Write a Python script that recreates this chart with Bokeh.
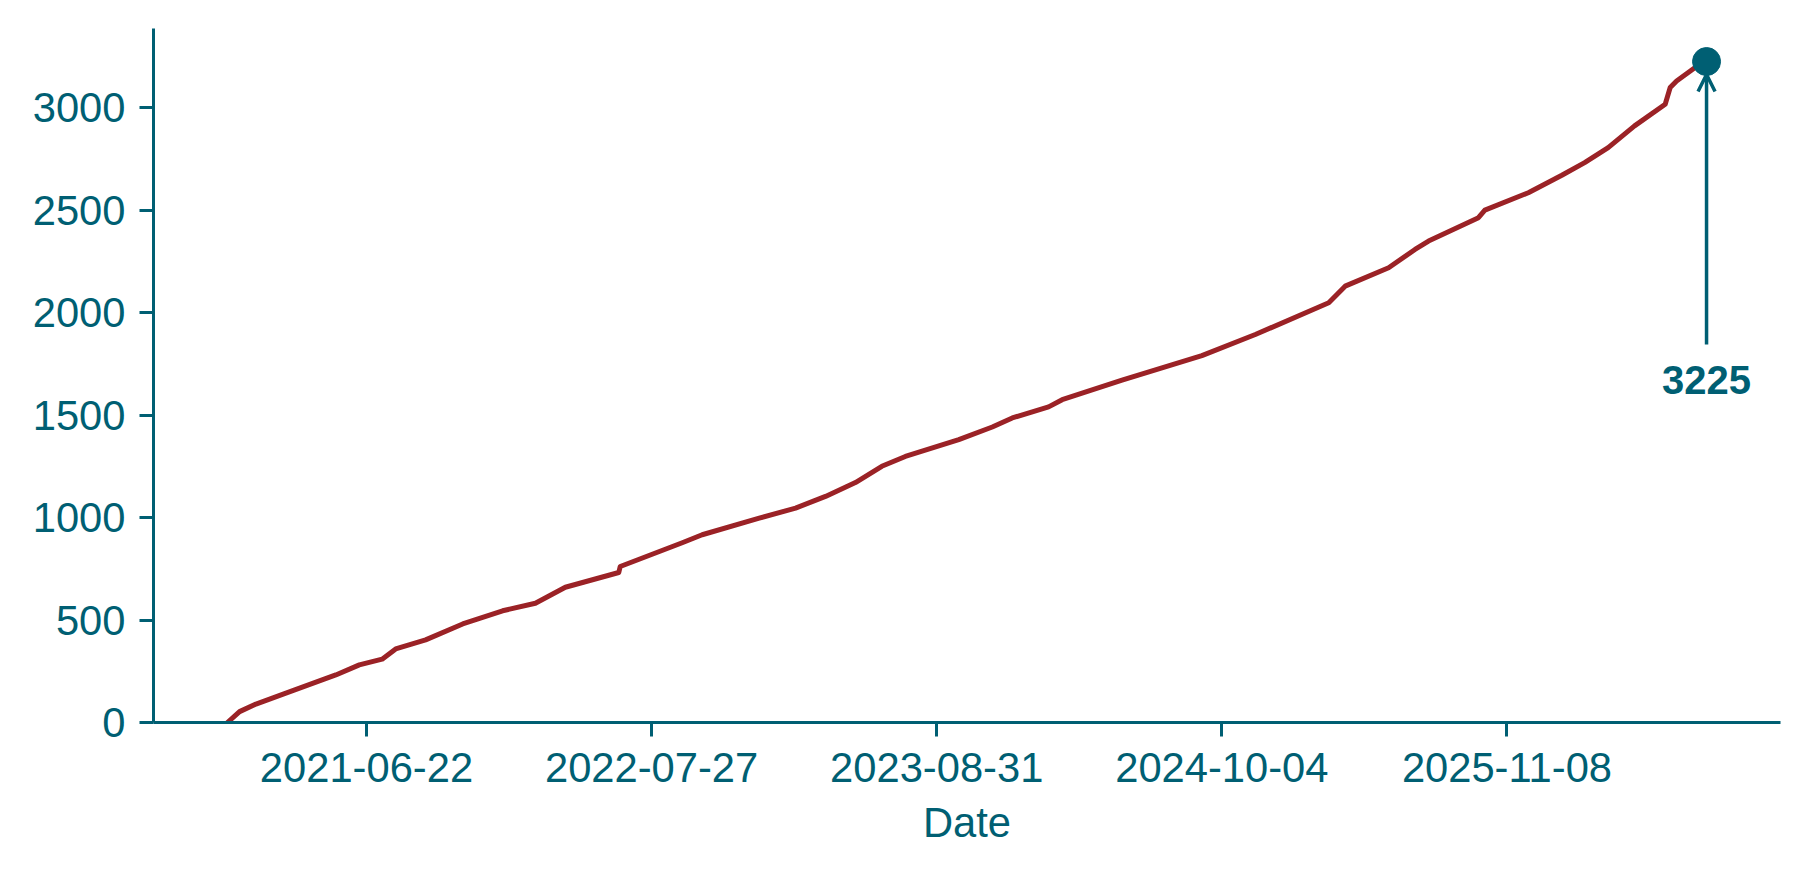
import pandas as pd
from bokeh.plotting import figure
from bokeh.models import Range1d, FixedTicker, DatetimeTickFormatter, Arrow, OpenHead, Label
from bokeh.embed import file_html
from bokeh.resources import INLINE

# ---- data ----
dates = [
    "2020-12-09", "2020-12-26", "2021-01-18", "2021-03-01", "2021-05-10",
    "2021-06-12", "2021-07-14", "2021-08-02", "2021-09-13", "2021-11-04",
    "2021-12-30", "2022-02-14", "2022-03-28", "2022-06-11", "2022-06-13",
    "2022-09-08", "2022-10-06", "2022-12-25", "2023-02-14", "2023-03-28",
    "2023-05-09", "2023-06-15", "2023-07-18", "2023-10-01", "2023-11-17",
    "2023-12-15", "2024-02-04", "2024-02-23", "2024-05-17", "2024-09-06",
    "2024-11-20", "2025-03-03", "2025-03-26", "2025-05-26", "2025-07-02",
    "2025-07-21", "2025-09-29", "2025-10-08", "2025-12-08", "2026-01-24",
    "2026-02-25", "2026-03-30", "2026-05-06", "2026-06-18", "2026-06-25",
    "2026-07-04", "2026-07-30", "2026-08-15",
]
counts = [
    0, 53, 90, 143, 232,
    281, 309, 359, 403, 481,
    545, 582, 660, 732, 761,
    877, 916, 997, 1046, 1103,
    1171, 1250, 1298, 1380, 1442,
    1486, 1540, 1575, 1671, 1790,
    1893, 2048, 2129, 2219, 2308,
    2349, 2463, 2500, 2585, 2670,
    2732, 2805, 2911, 3017, 3098,
    3130, 3196, 3225,
]
tick_dates = ["2021-06-22", "2022-07-27", "2023-08-31", "2024-10-04", "2025-11-08"]
y_ticks = [0, 500, 1000, 1500, 2000, 2500, 3000]

TEAL = "#005F73"
RED = "#9B2226"
FONT = "Liberation Sans"

x = pd.to_datetime(dates)
x_ms = [(d - pd.Timestamp("1970-01-01")) / pd.Timedelta(milliseconds=1) for d in x]
span = x_ms[-1] - x_ms[0]
x_start, x_end = x_ms[0] - 0.05 * span, x_ms[-1] + 0.05 * span
y_top = max(counts) * 1.05

FRAME_W, FRAME_H = 1627, 694

p = figure(
    x_axis_type="datetime",
    frame_width=FRAME_W, frame_height=FRAME_H,
    min_border_left=153, min_border_right=12, min_border_top=28, min_border_bottom=120,
    x_range=Range1d(x_start, x_end), y_range=Range1d(0, y_top),
    output_backend="svg", toolbar_location=None,
)
p.outline_line_color = None
p.grid.grid_line_color = None
p.background_fill_color = "white"

tick_ms = [(pd.Timestamp(t) - pd.Timestamp("1970-01-01")) / pd.Timedelta(milliseconds=1) for t in tick_dates]
p.xaxis.ticker = FixedTicker(ticks=tick_ms)
fmt = "%Y-%m-%d"
p.xaxis.formatter = DatetimeTickFormatter(
    milliseconds=fmt, seconds=fmt, minsec=fmt, minutes=fmt, hourmin=fmt,
    hours=fmt, days=fmt, months=fmt, years=fmt,
)
p.yaxis.ticker = FixedTicker(ticks=y_ticks)
p.xaxis.axis_label = "Date"

for ax in (p.xaxis[0], p.yaxis[0]):
    ax.axis_line_color = TEAL
    ax.axis_line_width = 3
    ax.major_tick_line_color = TEAL
    ax.major_tick_line_width = 3
    ax.major_tick_out = 14
    ax.major_tick_in = 0
    ax.minor_tick_line_color = None
    ax.major_label_text_color = TEAL
    ax.major_label_text_font = FONT
    ax.major_label_text_font_size = "41.7px"
    ax.axis_label_text_color = TEAL
    ax.axis_label_text_font = FONT
    ax.axis_label_text_font_size = "41.7px"
    ax.axis_label_text_font_style = "normal"
p.xaxis.major_label_standoff = 16
p.yaxis.major_label_standoff = 14
p.xaxis.axis_label_standoff = 14

p.line(x, counts, line_color=RED, line_width=5, line_join="round", line_cap="round")

# annotation of the final value
ppu = FRAME_H / y_top
last_x, last_y = x_ms[-1], counts[-1]
p.add_layout(Arrow(
    end=OpenHead(size=17, line_color=TEAL, line_width=3.5),
    x_start=last_x, y_start=last_y - 283 / ppu,
    x_end=last_x, y_end=last_y - 13 / ppu,
    line_color=TEAL, line_width=3.5,
))
p.add_layout(Label(
    x=last_x, y=last_y - 318 / ppu, text=str(last_y),
    text_align="center", text_baseline="middle",
    text_color=TEAL, text_font=FONT, text_font_size="40px", text_font_style="bold",
))
p.scatter([x[-1]], [last_y], size=28, color=TEAL)

open("out.html", "w").write(file_html(p, INLINE))
